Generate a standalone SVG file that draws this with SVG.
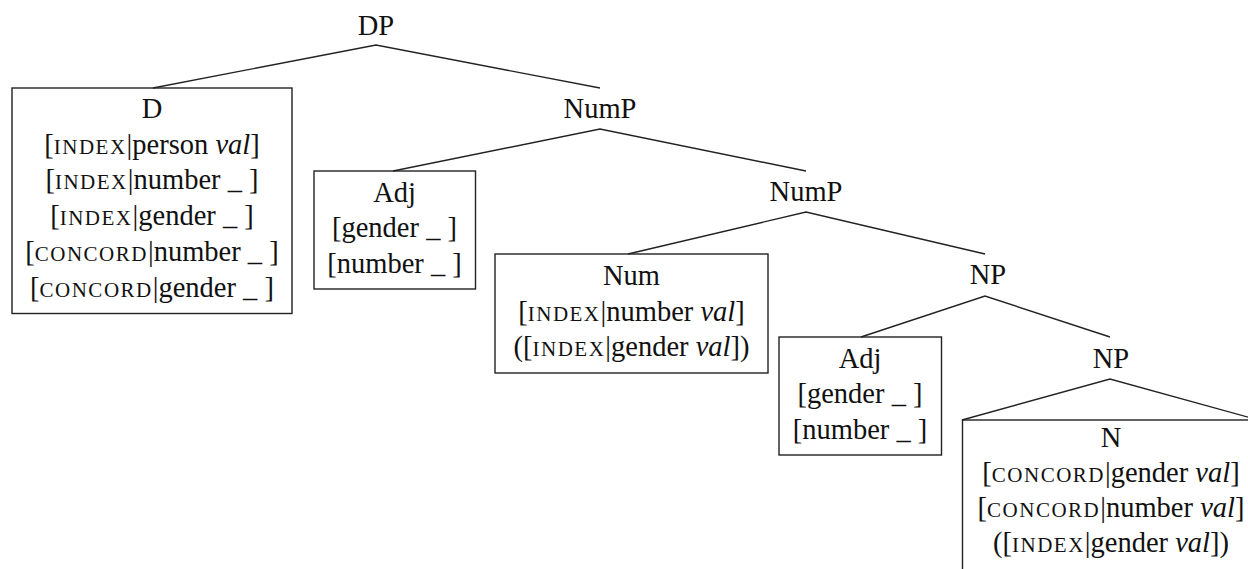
<svg xmlns="http://www.w3.org/2000/svg" width="1248" height="569" viewBox="0 0 1248 569" font-family="'Liberation Serif', 'Times New Roman', Times, 'DejaVu Serif', serif">
<style>
text{font-family:'Liberation Serif','Times New Roman',Times,'DejaVu Serif',serif;font-size:28.5px;fill:#111;text-anchor:middle}
.sc{font-size:21px;letter-spacing:1.5px}
.it{font-style:italic}
.box{fill:none;stroke:#222;stroke-width:1.4}
.edge{fill:none;stroke:#222;stroke-width:1.4}
</style>
<rect width="1248" height="569" fill="#fff"/>
<g id="connectors">
<polyline class="edge" points="153,88 376,45 600,88"/>
<polyline class="edge" points="393,171 600,129 806,171"/>
<polyline class="edge" points="628,254 806,212 985,254"/>
<polyline class="edge" points="861,337 985,296 1110,337"/>
<polyline class="edge" points="962,420 1110,379 1262,421"/>
</g>
<g id="DP"><text x="376" y="35">DP</text></g>
<g id="NumP1"><text x="600" y="118">NumP</text></g>
<g id="NumP2"><text x="806" y="201">NumP</text></g>
<g id="NP1"><text x="988" y="284">NP</text></g>
<g id="NP2"><text x="1111" y="368">NP</text></g>
<g id="D">
<rect class="box" x="12" y="88" width="280" height="225.5"/>
<text x="152" y="118">D</text>
<text x="152" y="153.7">[<tspan class="sc">INDEX</tspan>|person <tspan class="it">val</tspan>]</text>
<text x="152" y="189.4">[<tspan class="sc">INDEX</tspan>|number _ ]</text>
<text x="152" y="225.1">[<tspan class="sc">INDEX</tspan>|gender _ ]</text>
<text x="152" y="260.8">[<tspan class="sc">CONCORD</tspan>|number _ ]</text>
<text x="152" y="296.5">[<tspan class="sc">CONCORD</tspan>|gender _ ]</text>
</g>
<g id="Adj1">
<rect class="box" x="314" y="171" width="161.5" height="118"/>
<text x="394.5" y="201.5">Adj</text>
<text x="394.5" y="237.2">[gender _ ]</text>
<text x="394.5" y="272.9">[number _ ]</text>
</g>
<g id="Num">
<rect class="box" x="495" y="254" width="273" height="119"/>
<text x="631.5" y="285">Num</text>
<text x="631.5" y="320.7">[<tspan class="sc">INDEX</tspan>|number <tspan class="it">val</tspan>]</text>
<text x="631.5" y="356.4">([<tspan class="sc">INDEX</tspan>|gender <tspan class="it">val</tspan>])</text>
</g>
<g id="Adj2">
<rect class="box" x="779" y="337" width="162.5" height="118"/>
<text x="860" y="367.5">Adj</text>
<text x="860" y="403.2">[gender _ ]</text>
<text x="860" y="438.9">[number _ ]</text>
</g>
<g id="N">
<rect class="box" x="962.5" y="420" width="300" height="180"/>
<text x="1111" y="446.7">N</text>
<text x="1111" y="481.7">[<tspan class="sc">CONCORD</tspan>|gender <tspan class="it">val</tspan>]</text>
<text x="1111" y="516.7">[<tspan class="sc">CONCORD</tspan>|number <tspan class="it">val</tspan>]</text>
<text x="1111" y="551.7">([<tspan class="sc">INDEX</tspan>|gender <tspan class="it">val</tspan>])</text>
</g>
</svg>
